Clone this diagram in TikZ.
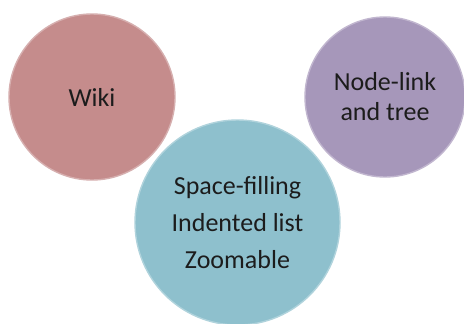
\documentclass[tikz,border=0pt]{standalone}
\usepackage{fontspec}
\setmainfont{Carlito}
\definecolor{wikifill}{HTML}{C58C8C}
\definecolor{treefill}{HTML}{A697BA}
\definecolor{spacefill}{HTML}{8EC0CD}
\definecolor{labeltext}{HTML}{1C1C1C}
\tikzset{
  bubble/.style={circle, inner sep=0pt, align=center, text=labeltext,
    font=\fontsize{26}{30}\selectfont, line width=1.4pt},
}
\begin{document}
\begin{tikzpicture}[x=1pt,y=-1pt]
  \fill[white] (0,0) rectangle (464,324);
  \useasboundingbox (0,0) rectangle (464,324);
  \node[bubble, fill=wikifill, draw=wikifill!70!white, minimum size=166pt]
    (wiki) at (92,97) {Wiki};
  \node[bubble, fill=treefill, draw=treefill!70!white, minimum size=160pt]
    (tree) at (385,97) {Node-link\\and tree};
  \node[bubble, fill=spacefill, draw=spacefill!70!white, minimum size=205pt,
    font=\fontsize{26}{37}\selectfont]
    (space) at (237.5,222.5) {Space-filling\\Indented list\\Zoomable};
\end{tikzpicture}
\end{document}
